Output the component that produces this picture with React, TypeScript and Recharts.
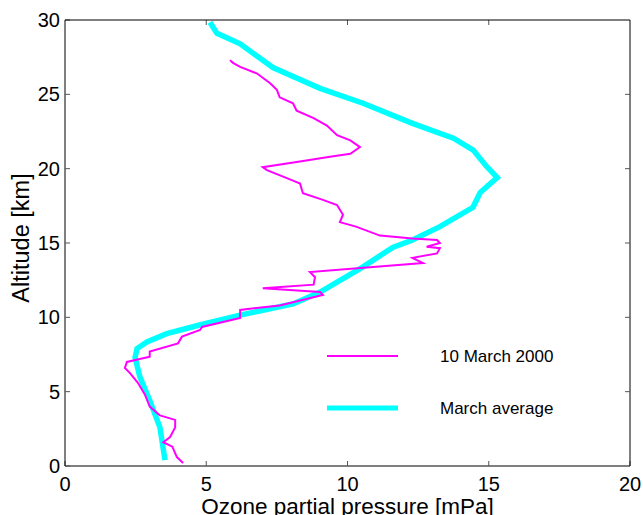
import React from 'react';
import { LineChart, Line, XAxis, YAxis, Legend } from 'recharts';

const xTicks = [0, 5, 10, 15, 20];
const yTicks = [0, 5, 10, 15, 20, 25, 30];

// 10 March 2000 sounding: [ozone mPa, altitude km]
const marchSounding: [number, number][] = [
  [4.18, 0.2], [3.96, 0.6], [3.8, 1.3], [3.48, 1.6], [3.72, 1.95], [3.9, 2.6], [3.9, 3.1],
  [3.36, 3.4], [3.0, 4.0], [2.83, 4.8], [2.58, 5.6], [2.3, 6.25], [2.12, 6.6], [2.19, 7.0],
  [3.0, 7.35], [3.0, 7.7], [4.0, 8.25], [4.14, 8.7], [4.78, 9.15], [4.85, 9.35], [6.2, 9.95],
  [6.2, 10.5], [7.6, 10.8], [9.13, 11.5], [9.03, 11.7], [7.0, 11.95], [8.8, 12.2], [8.85, 12.7],
  [8.67, 13.05], [12.67, 13.65], [12.3, 14.0], [13.17, 14.3], [13.27, 14.65], [12.8, 14.75],
  [13.27, 15.0], [13.17, 15.2], [12.3, 15.3], [11.15, 15.5], [10.3, 16.1], [9.73, 16.4],
  [9.84, 16.9], [9.63, 17.55], [9.13, 17.9], [8.42, 18.35], [8.32, 19.0], [8.07, 19.2],
  [7.15, 19.9], [7.0, 20.1], [8.2, 20.45], [9.38, 20.8], [10.1, 21.0], [10.44, 21.45],
  [10.1, 21.9], [9.63, 22.25], [9.27, 22.9], [8.8, 23.4], [8.2, 23.9], [8.07, 24.4],
  [7.6, 24.8], [7.5, 25.3], [7.26, 25.75], [6.8, 26.4], [6.2, 26.85], [5.96, 27.1], [5.84, 27.3],
];

// March average: [ozone mPa, altitude km]
const marchAverage: [number, number][] = [
  [3.54, 0.4], [3.36, 2.6], [3.0, 4.4], [2.65, 6.0], [2.48, 7.3], [2.55, 7.9], [2.9, 8.35],
  [3.6, 8.9], [4.8, 9.5], [6.2, 10.15], [8.07, 10.9], [9.03, 11.7], [10.55, 13.4], [11.6, 14.7],
  [12.3, 15.2], [13.27, 16.1], [14.44, 17.4], [14.7, 18.4], [15.3, 19.4], [14.9, 20.2],
  [14.45, 21.25], [13.75, 22.05], [12.3, 23.05], [10.55, 24.4], [9.03, 25.4], [7.36, 26.8],
  [6.2, 28.4], [5.38, 29.1], [5.13, 29.85],
];

const seriesNames = ['10 March 2000', 'March average'];
const seriesColors = ['#ff00ff', '#00ffff'];

const sounding = marchSounding.map(([o3, alt]) => ({ o3, alt }));
const average = marchAverage.map(([o3, alt]) => ({ o3, alt }));

const X_MAX = 20;
const Y_MAX = 30;

// plot-area box (layout constants matching the chart margins/axis sizes)
const BOX = { left: 65, top: 20, right: 630, bottom: 466 };
const TICK_LEN = 5;

const FONT = '"Liberation Sans", Arial, Helvetica, sans-serif';

// Bottom-axis tick: label + mirrored inward tick on the top border (+ right border at max)
const XTick = (props: any) => {
  const { x, y, payload } = props;
  const v = payload.value;
  return (
    <g>
      <text x={x} y={y + 14} textAnchor="middle" fontSize={20} fontFamily={FONT} fill="#000">
        {v}
      </text>
      {v > 0 && v < X_MAX && (
        <line x1={x} x2={x} y1={BOX.top} y2={BOX.top + TICK_LEN} stroke="#555" strokeWidth={1} />
      )}
      {v === X_MAX && <line x1={x} x2={x} y1={BOX.top} y2={BOX.bottom} stroke="#000" strokeWidth={1} />}
    </g>
  );
};

// Left-axis tick: label + mirrored inward tick on the right border (+ top border at max)
const YTick = (props: any) => {
  const { x, y, payload } = props;
  const v = payload.value;
  return (
    <g>
      <text x={x} y={y + 7} textAnchor="end" fontSize={20} fontFamily={FONT} fill="#000">
        {v}
      </text>
      {v > 0 && v < Y_MAX && (
        <line x1={BOX.right - TICK_LEN} x2={BOX.right} y1={y} y2={y} stroke="#555" strokeWidth={1} />
      )}
      {v === Y_MAX && <line x1={BOX.left} x2={BOX.right} y1={y} y2={y} stroke="#000" strokeWidth={1} />}
    </g>
  );
};

const LegendBox = () => (
  <svg width={280} height={100} style={{ display: 'block' }}>
    <line x1={7} y1={26} x2={78} y2={26} stroke={seriesColors[0]} strokeWidth={2} />
    <text x={120} y={26} dominantBaseline="central" fontSize={17} fontFamily={FONT} fill="#000">
      {seriesNames[0]}
    </text>
    <line x1={7} y1={78} x2={78} y2={78} stroke={seriesColors[1]} strokeWidth={5} />
    <text x={120} y={78} dominantBaseline="central" fontSize={17} fontFamily={FONT} fill="#000">
      {seriesNames[1]}
    </text>
  </svg>
);

export default function App() {
  return (
    <div style={{ position: 'absolute', left: 0, top: 0, width: 643, height: 515, background: '#fff' }}>
      <LineChart
        width={643}
        height={515}
        layout="vertical"
        data={average}
        margin={{ top: 20, right: 13, left: 0, bottom: 0 }}
        style={{ fontFamily: FONT }}
      >
        <XAxis
          type="number"
          domain={[0, X_MAX]}
          ticks={xTicks}
          allowDataOverflow
          height={49}
          tickSize={-5}
          tickMargin={16}
          tick={<XTick />}
          stroke="#000"
          tickLine={{ stroke: '#555' }}
          axisLine={{ stroke: '#000' }}
          label={{
            content: () => (
              <text x={347.5} y={514} textAnchor="middle" fontSize={22.5} fontFamily={FONT} fill="#000">
                Ozone partial pressure [mPa]
              </text>
            ),
          }}
        />
        <YAxis
          type="number"
          dataKey="alt"
          domain={[0, Y_MAX]}
          ticks={yTicks}
          reversed
          allowDataOverflow
          width={65}
          tickSize={-5}
          tickMargin={10}
          tick={<YTick />}
          stroke="#000"
          tickLine={{ stroke: '#555' }}
          axisLine={{ stroke: '#000' }}
          label={{
            content: () => (
              <text
                x={29}
                y={238}
                transform="rotate(-90, 29, 238)"
                textAnchor="middle"
                fontSize={23.5}
                fontFamily={FONT}
                fill="#000"
              >
                Altitude [km]
              </text>
            ),
          }}
        />
        <Legend
          layout="vertical"
          align="center"
          verticalAlign="middle"
          wrapperStyle={{ left: 320, top: 330, width: 280, height: 100 }}
          content={() => <LegendBox />}
        />
        <Line
          data={average}
          dataKey="o3"
          name={seriesNames[1]}
          type="linear"
          stroke={seriesColors[1]}
          strokeWidth={5.5}
          dot={false}
          activeDot={false}
          isAnimationActive={false}
        />
        <Line
          data={sounding}
          dataKey="o3"
          name={seriesNames[0]}
          type="linear"
          stroke={seriesColors[0]}
          strokeWidth={2}
          dot={false}
          activeDot={false}
          isAnimationActive={false}
        />
      </LineChart>
    </div>
  );
}
